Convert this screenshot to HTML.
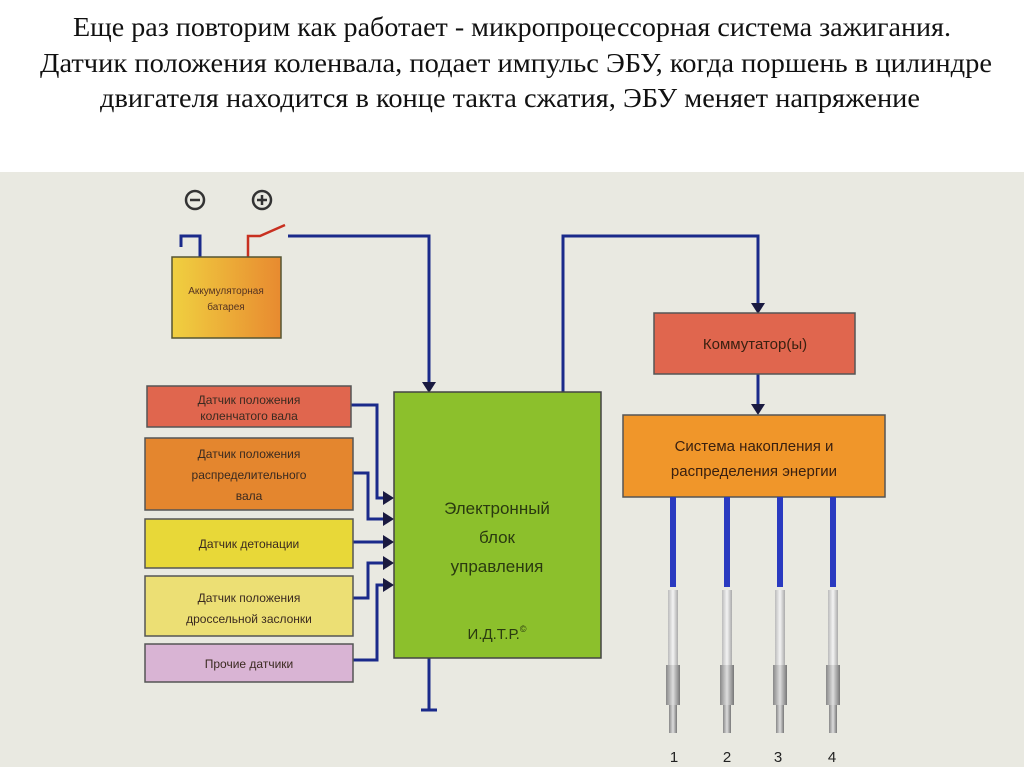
<!DOCTYPE html>
<html><head><meta charset="utf-8"><style>
html,body{margin:0;padding:0;background:#fff;}
svg{display:block;}
</style></head><body>
<svg width="1024" height="767" viewBox="0 0 1024 767" xmlns="http://www.w3.org/2000/svg">
<defs>
<linearGradient id="bat" x1="0" y1="0" x2="1" y2="0"><stop offset="0" stop-color="#f0d040"/><stop offset="1" stop-color="#e88a30"/></linearGradient>
<linearGradient id="plug" x1="0" y1="0" x2="1" y2="0"><stop offset="0" stop-color="#bbb"/><stop offset="0.5" stop-color="#f4f4f4"/><stop offset="1" stop-color="#aaa"/></linearGradient>
<linearGradient id="metal" x1="0" y1="0" x2="1" y2="0"><stop offset="0" stop-color="#888"/><stop offset="0.5" stop-color="#ddd"/><stop offset="1" stop-color="#777"/></linearGradient>
</defs>
<rect x="0" y="0" width="1024" height="767" fill="#fff"/>
<g font-family="'Liberation Serif', serif" font-size="27" fill="#111" text-anchor="middle">
<text x="512" y="36" textLength="878" lengthAdjust="spacingAndGlyphs">Еще раз повторим как работает - микропроцессорная система зажигания.</text>
<text x="516" y="72" textLength="952" lengthAdjust="spacingAndGlyphs">Датчик положения коленвала, подает импульс ЭБУ, когда поршень в цилиндре</text>
<text x="510" y="107" textLength="820" lengthAdjust="spacingAndGlyphs">двигателя находится в конце такта сжатия, ЭБУ меняет напряжение</text>
</g>
<rect x="0" y="172" width="1024" height="595" fill="#e9e9e1"/>

<circle cx="195" cy="200" r="9" fill="none" stroke="#333" stroke-width="2.5"/><line x1="190" y1="200" x2="200" y2="200" stroke="#333" stroke-width="2.5"/>
<circle cx="262" cy="200" r="9" fill="none" stroke="#333" stroke-width="2.5"/><line x1="257" y1="200" x2="267" y2="200" stroke="#333" stroke-width="2.5"/><line x1="262" y1="195" x2="262" y2="205" stroke="#333" stroke-width="2.5"/>
<polyline points="200,257 200,236 181,236 181,247" fill="none" stroke="#1a2a8a" stroke-width="3"/>
<polyline points="248,257 248,236 260,236 285,225" fill="none" stroke="#c83020" stroke-width="2.5"/>
<rect x="172" y="257" width="109" height="81" fill="url(#bat)" stroke="#553" stroke-width="1.5"/>
<g font-family="'Liberation Sans', sans-serif" font-size="10" fill="#532" text-anchor="middle">
<text x="226" y="294">Аккумуляторная</text><text x="226" y="310">батарея</text></g>

<g fill="none" stroke="#1a2a8a" stroke-width="3">
<polyline points="288,236 429,236 429,384"/>
<polyline points="563,392 563,236 758,236 758,305"/>
<line x1="758" y1="374" x2="758" y2="407"/>
<line x1="429" y1="658" x2="429" y2="710"/><line x1="421" y1="710" x2="437" y2="710"/>
<polyline points="351,405 377,405 377,498 386,498"/>
<polyline points="353,473 368,473 368,519 386,519"/>
<polyline points="353,542 386,542"/>
<polyline points="353,598 368,598 368,563 386,563"/>
<polyline points="353,660 377,660 377,585 386,585"/>
</g>
<g fill="#1a1a40">
<polygon points="422,382 436,382 429,393"/>
<polygon points="751,303 765,303 758,314"/>
<polygon points="751,404 765,404 758,415"/>
<polygon points="383,491 383,505 394,498"/>
<polygon points="383,512 383,526 394,519"/>
<polygon points="383,535 383,549 394,542"/>
<polygon points="383,556 383,570 394,563"/>
<polygon points="383,578 383,592 394,585"/>
</g>

<rect x="394" y="392" width="207" height="266" fill="#8cc02c" stroke="#444" stroke-width="1.5"/>
<g font-family="'Liberation Sans', sans-serif" font-size="17" fill="#2a3a10" text-anchor="middle">
<text x="497" y="514">Электронный</text><text x="497" y="543">блок</text><text x="497" y="572">управления</text>
<text x="497" y="639" font-size="15">И.Д.Т.Р.<tspan font-size="9" dy="-7">©</tspan></text></g>

<g stroke="#555" stroke-width="1.5">
<rect x="147" y="386" width="204" height="41" fill="#e0664e"/>
<rect x="145" y="438" width="208" height="72" fill="#e4862e"/>
<rect x="145" y="519" width="208" height="49" fill="#e8d838"/>
<rect x="145" y="576" width="208" height="60" fill="#ecdf74"/>
<rect x="145" y="644" width="208" height="38" fill="#d9b4d4"/>
</g>
<g font-family="'Liberation Sans', sans-serif" font-size="12" fill="#3a2a20" text-anchor="middle">
<text x="249" y="404">Датчик положения</text><text x="249" y="420">коленчатого вала</text>
<text x="249" y="458">Датчик положения</text><text x="249" y="479">распределительного</text><text x="249" y="500">вала</text>
<text x="249" y="548">Датчик детонации</text>
<text x="249" y="602">Датчик положения</text><text x="249" y="623">дроссельной заслонки</text>
<text x="249" y="668">Прочие датчики</text>
</g>

<rect x="654" y="313" width="201" height="61" fill="#e0664e" stroke="#555" stroke-width="1.5"/>
<rect x="623" y="415" width="262" height="82" fill="#f0962a" stroke="#555" stroke-width="1.5"/>
<g font-family="'Liberation Sans', sans-serif" font-size="15" fill="#3a2010" text-anchor="middle">
<text x="755" y="349">Коммутатор(ы)</text>
<text x="754" y="451">Система накопления и</text><text x="754" y="476">распределения энергии</text></g>

<g>
<g transform="translate(673,0)"><line x1="0" y1="497" x2="0" y2="587" stroke="#2a3ac0" stroke-width="6"/><rect x="-5" y="590" width="10" height="75" fill="url(#plug)"/><rect x="-7" y="665" width="14" height="40" fill="url(#metal)"/><rect x="-4" y="705" width="8" height="28" fill="url(#metal)"/></g>
<g transform="translate(727,0)"><line x1="0" y1="497" x2="0" y2="587" stroke="#2a3ac0" stroke-width="6"/><rect x="-5" y="590" width="10" height="75" fill="url(#plug)"/><rect x="-7" y="665" width="14" height="40" fill="url(#metal)"/><rect x="-4" y="705" width="8" height="28" fill="url(#metal)"/></g>
<g transform="translate(780,0)"><line x1="0" y1="497" x2="0" y2="587" stroke="#2a3ac0" stroke-width="6"/><rect x="-5" y="590" width="10" height="75" fill="url(#plug)"/><rect x="-7" y="665" width="14" height="40" fill="url(#metal)"/><rect x="-4" y="705" width="8" height="28" fill="url(#metal)"/></g>
<g transform="translate(833,0)"><line x1="0" y1="497" x2="0" y2="587" stroke="#2a3ac0" stroke-width="6"/><rect x="-5" y="590" width="10" height="75" fill="url(#plug)"/><rect x="-7" y="665" width="14" height="40" fill="url(#metal)"/><rect x="-4" y="705" width="8" height="28" fill="url(#metal)"/></g>
</g>
<g font-family="'Liberation Sans', sans-serif" font-size="15" fill="#222" text-anchor="middle">
<text x="674" y="762">1</text><text x="727" y="762">2</text><text x="778" y="762">3</text><text x="832" y="762">4</text></g>
</svg>
</body></html>
